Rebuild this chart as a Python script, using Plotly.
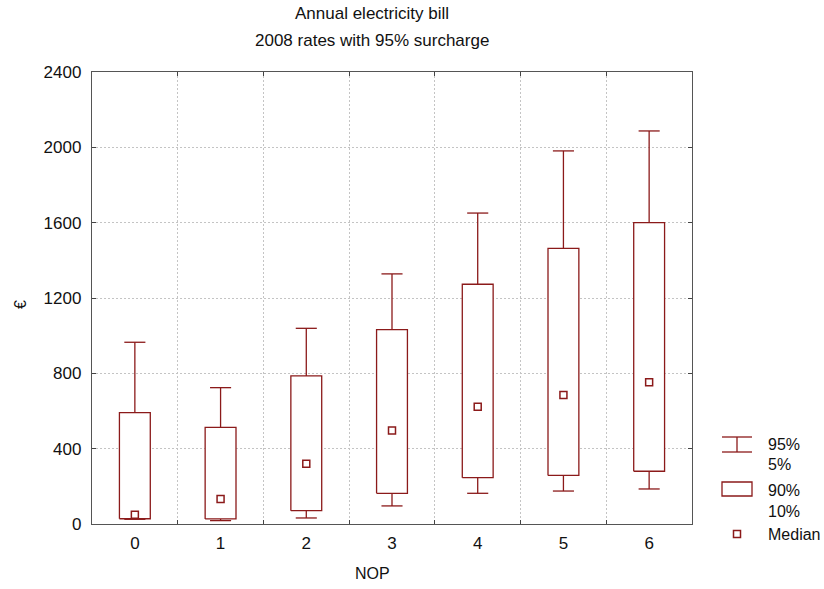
import plotly.graph_objects as go

# Number of persons (NOP) and annual bill percentiles in EUR
nop = [0, 1, 2, 3, 4, 5, 6]
p05 = [25, 18, 32, 96, 163, 175, 186]
p10 = [28, 27, 71, 163, 246, 258, 280]
median = [49, 133, 320, 496, 623, 685, 752]
p90 = [591, 513, 786, 1032, 1273, 1464, 1600]
p95 = [965, 724, 1039, 1328, 1651, 1981, 2087]

y_ticks = [0, 400, 800, 1200, 1600, 2000, 2400]

RED = "#8B1A1A"
FONT = "Liberation Sans, Arial, sans-serif"
BOX_HALF = 0.18
CAP_HALF = 0.123

# whiskers: 95% and 5% with caps
wx, wy = [], []
for x, lo, blo, bhi, hi in zip(nop, p05, p10, p90, p95):
    wx += [x, x, None, x - CAP_HALF, x + CAP_HALF, None,
           x, x, None, x - CAP_HALF, x + CAP_HALF, None]
    wy += [bhi, hi, None, hi, hi, None,
           blo, lo, None, lo, lo, None]

# boxes: 10% to 90%
bx, by = [], []
for x, blo, bhi in zip(nop, p10, p90):
    bx += [x - BOX_HALF, x + BOX_HALF, x + BOX_HALF, x - BOX_HALF, x - BOX_HALF, None]
    by += [blo, blo, bhi, bhi, blo, None]

fig = go.Figure()
fig.add_trace(go.Scatter(x=wx, y=wy, mode="lines", line=dict(color=RED, width=1.3),
                         hoverinfo="skip", showlegend=False))
fig.add_trace(go.Scatter(x=bx, y=by, mode="lines", fill="toself", fillcolor="white",
                         line=dict(color=RED, width=1.3), hoverinfo="skip", showlegend=False))
fig.add_trace(go.Scatter(x=nop, y=median, mode="markers",
                         marker=dict(symbol="square-open", size=7, color=RED,
                                     line=dict(color=RED, width=1.5)),
                         showlegend=False))

# plot area in pixels: x 92..692, y 72..524
def px(x):
    return (x - 92) / 600.0

def py(y):
    return (524 - y) / 452.0

annotations = [
    dict(text="Annual electricity bill", x=px(372), y=py(13), size=17),
    dict(text="2008 rates with 95% surcharge", x=px(372), y=py(40.5), size=17),
    dict(text="NOP", x=px(372), y=py(573), size=16),
    dict(text="95%", x=px(766), y=py(444), size=16, xanchor="left"),
    dict(text="5%", x=px(766), y=py(464), size=16, xanchor="left"),
    dict(text="90%", x=px(766), y=py(490), size=16, xanchor="left"),
    dict(text="10%", x=px(766), y=py(511), size=16, xanchor="left"),
    dict(text="Median", x=px(766), y=py(534), size=16, xanchor="left"),
]
ann = []
for a in annotations:
    ann.append(dict(text=a["text"], x=a["x"], y=a["y"], xref="paper", yref="paper",
                    xanchor=a.get("xanchor", "center"), yanchor="middle", showarrow=False,
                    font=dict(family=FONT, size=a["size"], color="#111")))
ann.append(dict(text="€", x=px(20), y=py(305), xref="paper", yref="paper",
                xanchor="center", yanchor="middle", showarrow=False, textangle=-90,
                font=dict(family=FONT, size=16, color="#111")))

# legend symbols
leg_line = dict(color=RED, width=1.3)
shapes = [
    dict(type="line", xref="paper", yref="paper", x0=px(722), x1=px(752), y0=py(437), y1=py(437), line=leg_line),
    dict(type="line", xref="paper", yref="paper", x0=px(722), x1=px(752), y0=py(452), y1=py(452), line=leg_line),
    dict(type="line", xref="paper", yref="paper", x0=px(737), x1=px(737), y0=py(437), y1=py(452), line=leg_line),
    dict(type="rect", xref="paper", yref="paper", x0=px(722), x1=px(752), y0=py(482), y1=py(496), line=leg_line),
    dict(type="rect", xref="paper", yref="paper", x0=px(733.5), x1=px(740.5), y0=py(530.5), y1=py(537.5),
         line=dict(color=RED, width=1.5)),
]

fig.update_layout(
    width=824, height=589,
    margin=dict(l=92, r=132, t=72, b=65),
    paper_bgcolor="white", plot_bgcolor="white",
    font=dict(family=FONT, size=17, color="#111"),
    annotations=ann, shapes=shapes,
    showlegend=False,
)
fig.update_xaxes(
    range=[-0.5, 6.5], tickmode="array", tickvals=nop, ticktext=[str(v) for v in nop],
    ticks="", showgrid=False, zeroline=False,
    showline=True, linecolor="#555", linewidth=1.3, mirror="allticks",
    ticklabelstandoff=3,
    minor=dict(tickmode="array", tickvals=[i + 0.5 for i in nop[:-1]], ticks="inside",
               ticklen=4, tickcolor="#444", showgrid=True, gridcolor="#c4c4c4",
               griddash="2px,2px", gridwidth=1),
)
fig.update_yaxes(
    range=[0, 2400], tickmode="array", tickvals=y_ticks,
    ticks="inside", ticklen=4, tickcolor="#444",
    showgrid=True, gridcolor="#c4c4c4", griddash="2px,2px", gridwidth=1, zeroline=False,
    showline=True, linecolor="#555", linewidth=1.3, mirror="allticks",
    ticklabelstandoff=6,
)

fig.write_html("out.html")
